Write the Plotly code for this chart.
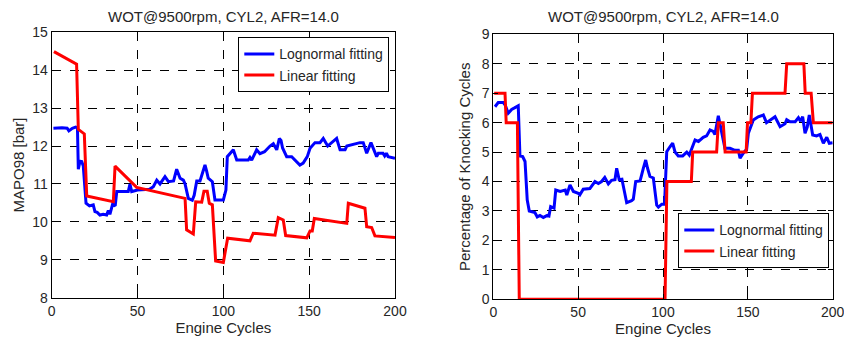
import plotly.graph_objects as go

# ---------------- data ----------------
left_blue_x = [1, 3, 6, 9, 10, 12, 14, 15, 15.5, 16.5, 17.5, 18.4, 20, 22, 24.2, 25.2, 26.5, 28.1, 30, 32, 33, 33.9,
               35.5, 37, 37.9, 40, 44.6, 45.6, 46.6, 50, 55.3, 57, 59.2, 61.2, 63.1, 66, 68, 71, 72.8, 74.8, 76.7,
               77.7, 79.6, 81.9, 83, 84.5, 86.4, 88.3, 89.3, 90.2, 91.2, 93.6, 95.1, 100, 101.5, 102.3, 105.8, 107.8,
               114.5, 115.5, 116.5, 119.4, 121.3, 124, 127.2, 129.1, 131.1, 132.6, 133.6, 134.5, 136.9, 139.8, 142.7,
               144.6, 146.5, 148.9, 150.5, 153.4, 156.3, 158.2, 160.8, 163.1, 166, 168, 170.9, 171.9, 179.6, 181.5,
               183.5, 186, 189.3, 190.3, 193, 194, 195, 196, 200]
left_blue_y = [12.47, 12.48, 12.48, 12.47, 12.4, 12.47, 12.5, 12.48, 11.39, 11.6, 11.59, 11.47, 10.49, 10.42, 10.45,
               10.27, 10.25, 10.18, 10.2, 10.18, 10.3, 10.2, 10.47, 10.42, 10.8, 10.8, 10.8, 11.0, 10.8, 10.84, 10.84,
               10.86, 10.93, 11.1, 11.0, 11.19, 11.06, 11.08, 11.39, 11.15, 11.1, 11.0, 10.62, 10.57, 10.7, 11.08,
               11.08, 11.37, 11.5, 11.35, 11.15, 11.06, 10.58, 10.58, 10.84, 11.72, 11.9, 11.63, 11.63, 11.7, 11.63,
               11.9, 11.8, 11.85, 12.0, 12.06, 11.9, 12.2, 12.15, 11.95, 11.72, 11.72, 11.59, 11.5, 11.55, 11.72,
               11.94, 12.09, 12.09, 12.2, 12.0, 12.09, 12.2, 11.9, 11.9, 12.0, 12.09, 12.09, 11.81, 12.09, 11.72,
               11.81, 11.81, 11.74, 11.81, 11.72, 11.68]

left_red_x = [1.3, 14.5, 15.5, 19, 20.4, 35.9, 36.9, 49.5, 77.7, 78.6, 82.5, 83.9, 87.4, 88.7, 90.6, 91.8, 93.6,
              95.5, 100, 102.5, 115.5, 117.4, 130.1, 132, 134.9, 136.3, 148.6, 150.5, 151.8, 153, 171.9, 172.8,
              182.5, 183.5, 186.4, 188.3, 200]
left_red_y = [14.49, 14.16, 12.44, 12.32, 10.68, 10.53, 11.47, 10.91, 10.62, 9.79, 9.68, 10.53, 10.52, 10.81, 10.81,
              10.49, 10.45, 8.97, 8.93, 9.57, 9.5, 9.70, 9.65, 10.11, 10.05, 9.64, 9.58, 9.76, 9.76, 10.09, 9.96,
              10.49, 10.36, 9.87, 9.85, 9.63, 9.59]

right_blue_x = [1, 2.9, 5.9, 7, 8.8, 10.8, 12.5, 14.7, 15.7, 17.3, 18.7, 20, 21.2, 24.5, 25.9, 27.5, 29.5, 31.8, 32.8,
                33.8, 35.8, 36.8, 39.4, 42.4, 43.3, 45.2, 47.2, 50.1, 51, 53, 56.9, 59.9, 61.9, 63.8, 65.7, 67.8,
                69.7, 71.7, 72.7, 74.2, 75.8, 78.6, 81.5, 82.5, 83.9, 86.5, 88.4, 89.8, 90.9, 92.3, 94.3, 96.3,
                97.3, 99.3, 100.9, 102.2, 104.1, 105.7, 107.1, 109, 111.6, 114, 115.5, 116.9, 118.9, 120.9, 123.7,
                125.7, 127.7, 129.6, 130.6, 132.6, 133.5, 134.5, 136.5, 139.5, 142.4, 144.4, 145.4, 147.3, 149.3,
                150.3, 153.2, 156.1, 159.1, 161, 163.5, 166, 169, 171.9, 172.9, 174.9, 177.9, 179.8, 181, 182.3,
                183.7, 185, 186.2, 188.2, 190.5, 192.5, 194.5, 196.5, 198, 200]
right_blue_y = [6.54, 6.68, 6.68, 6.6, 6.32, 6.45, 6.5, 6.57, 4.87, 4.85, 4.68, 3.37, 3.0, 2.95, 2.8, 2.85, 2.78,
                2.85, 2.83, 3.15, 3.1, 3.71, 3.66, 3.71, 3.54, 3.88, 3.66, 3.6, 3.55, 3.74, 3.76, 4.0, 3.93, 4.0,
                4.14, 3.92, 4.04, 4.06, 4.45, 4.06, 4.08, 3.28, 3.35, 3.4, 4.0, 4.02, 4.45, 4.73, 4.45, 4.17, 4.12,
                3.2, 3.13, 3.23, 3.23, 5.01, 5.18, 5.3, 5.0, 4.87, 4.87, 5.0, 4.9, 5.1, 5.41, 5.36, 5.5, 5.55, 5.75,
                5.7, 5.6, 6.23, 5.95, 5.63, 5.13, 5.13, 5.06, 5.06, 4.79, 4.96, 5.1, 5.64, 6.09, 6.2, 6.26, 6.0,
                6.1, 6.2, 5.86, 5.96, 6.1, 6.03, 6.03, 6.17, 6.05, 6.2, 5.64, 5.85, 6.26, 5.58, 5.55, 5.6, 5.3,
                5.5, 5.3, 5.32]

right_red_x = [0.5, 6.9, 7.6, 14.2, 15.3, 101.2, 102.3, 116.7, 117.5, 131.6, 132.6, 135.5, 136.6, 149, 149.8,
               151.8, 152.7, 171.9, 172.9, 183, 183.8, 187.3, 188.6, 200]
right_red_y = [7, 7, 6, 6, 0, 0, 4, 4, 5, 5, 6, 6, 5, 5, 6, 6, 7, 7, 8, 8, 7, 7, 6, 6]

title_text = "WOT@9500rpm, CYL2, AFR=14.0"
x_title = "Engine Cycles"
left_y_title = "MAPO98 [bar]"
right_y_title = "Percentage of Knocking Cycles"
series_names = ["Lognormal fitting", "Linear fitting"]
x_ticks = [0, 50, 100, 150, 200]
left_y_ticks = [8, 9, 10, 11, 12, 13, 14, 15]
right_y_ticks = [0, 1, 2, 3, 4, 5, 6, 7, 8, 9]

# ---------------- figure ----------------
W, H = 844, 337
FONT = "Liberation Sans, Arial, sans-serif"
TXT = "#262626"
BLUE, RED = "#0000FF", "#FF0000"

fig = go.Figure()
fig.add_trace(go.Scatter(x=left_blue_x, y=left_blue_y, mode="lines", name=series_names[0],
                         line=dict(color=BLUE, width=3), xaxis="x", yaxis="y", legend="legend"))
fig.add_trace(go.Scatter(x=left_red_x, y=left_red_y, mode="lines", name=series_names[1],
                         line=dict(color=RED, width=3), xaxis="x", yaxis="y", legend="legend"))
fig.add_trace(go.Scatter(x=right_blue_x, y=right_blue_y, mode="lines", name=series_names[0],
                         line=dict(color=BLUE, width=3), xaxis="x2", yaxis="y2", legend="legend2"))
fig.add_trace(go.Scatter(x=right_red_x, y=right_red_y, mode="lines", name=series_names[1],
                         line=dict(color=RED, width=3), xaxis="x2", yaxis="y2", legend="legend2"))

def px_x(p):
    return p / W

def px_y(p):
    return 1 - p / H

axis_common = dict(showline=True, linecolor="black", linewidth=1, mirror="ticks", ticks="inside",
                   ticklen=5, tickcolor="black", showgrid=True, gridcolor="black", gridwidth=1,
                   griddash="dash", zeroline=False, automargin=False, ticklabeloverflow="allow",
                   tickfont=dict(family=FONT, size=14, color=TXT),
                   title_font=dict(family=FONT, size=15, color=TXT))

fig.update_layout(
    width=W, height=H, margin=dict(l=0, r=0, t=0, b=0),
    paper_bgcolor="white", plot_bgcolor="white",
    font=dict(family=FONT, color=TXT),
    xaxis=dict(domain=[px_x(51.7), px_x(395)], range=[0, 200], tickvals=x_ticks, anchor="y",
               title=dict(text=x_title, standoff=2), **axis_common),
    yaxis=dict(domain=[px_y(297.7), px_y(32.3)], range=[8, 15], tickvals=left_y_ticks, anchor="x",
               title=dict(text=left_y_title, standoff=4), **axis_common),
    xaxis2=dict(domain=[px_x(493.3), px_x(832.7)], range=[0, 200], tickvals=x_ticks, anchor="y2",
                title=dict(text=x_title, standoff=2), **axis_common),
    yaxis2=dict(domain=[px_y(299.3), px_y(34.3)], range=[0, 9], tickvals=right_y_ticks, anchor="x2",
                title=dict(text=right_y_title, standoff=7), **axis_common),
    legend=dict(x=px_x(389.3), y=px_y(37.3), xanchor="right", yanchor="top", bgcolor="white",
                bordercolor="black", borderwidth=1, font=dict(family=FONT, size=14, color=TXT),
                tracegroupgap=0, itemwidth=30),
    legend2=dict(x=px_x(829.3), y=px_y(213.3), xanchor="right", yanchor="top", bgcolor="white",
                 bordercolor="black", borderwidth=1, font=dict(family=FONT, size=14, color=TXT),
                 tracegroupgap=0, itemwidth=30),
    showlegend=True,
    annotations=[
        dict(text=title_text, x=(px_x(51.7) + px_x(395)) / 2, y=px_y(17), xref="paper", yref="paper",
             xanchor="center", yanchor="middle", showarrow=False, font=dict(family=FONT, size=15, color=TXT)),
        dict(text=title_text, x=(px_x(493.3) + px_x(832.7)) / 2, y=px_y(17), xref="paper", yref="paper",
             xanchor="center", yanchor="middle", showarrow=False, font=dict(family=FONT, size=15, color=TXT)),
    ],
)

fig.write_html("out.html", config={"displayModeBar": False},
               post_script="document.body.style.margin='0';document.body.style.overflow='hidden';")
